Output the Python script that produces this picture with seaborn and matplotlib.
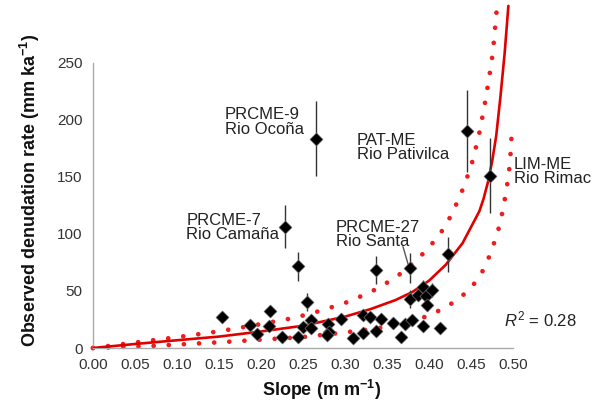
import numpy as np
import pandas as pd
import seaborn as sns
import matplotlib.pyplot as plt

# observed samples: slope, denudation rate, error
slope = [0.154, 0.187, 0.195, 0.211, 0.210, 0.225, 0.228, 0.244, 0.244, 0.255,
         0.250, 0.260, 0.260, 0.265, 0.280, 0.281, 0.279, 0.295, 0.310, 0.321,
         0.321, 0.330, 0.337, 0.337, 0.343, 0.357, 0.367, 0.371, 0.377, 0.377,
         0.380, 0.387, 0.393, 0.396, 0.398, 0.404, 0.393, 0.413, 0.423, 0.445,
         0.473]
rate = [27, 20, 12.5, 32.5, 19.5, 9.4, 106.5, 71.5, 9.4, 40.5,
        18.7, 24.6, 17.5, 183.5, 20.8, 14.3, 11.5, 25, 9, 29,
        12.9, 27, 68.5, 14.5, 25, 21.5, 9.4, 21, 70, 42.7,
        24.6, 46.5, 53.8, 45.6, 37.7, 50.9, 19.3, 17.3, 82, 190.5,
        151]
rate_err = [0, 3, 0, 4, 3, 0, 19, 13, 0, 8,
            3, 3, 0, 33, 3, 0, 0, 3, 0, 3,
            0, 3, 12, 0, 0, 0, 0, 0, 13, 8,
            0, 5, 6, 5, 5, 6, 0, 0, 15, 36,
            33]

# fitted curve
fit_s = [0.0, 0.05, 0.10, 0.15, 0.20, 0.25, 0.30, 0.33, 0.36, 0.38, 0.40,
         0.42, 0.44, 0.45, 0.46, 0.465, 0.47, 0.475, 0.48, 0.485, 0.49,
         0.4945]
fit_e = [0, 3.5, 6.8, 10, 14.5, 19.5, 27.5, 34, 42, 49, 59,
         73, 92, 106, 120, 131, 145, 163, 186, 220, 258,
         300]

# confidence bounds
up_s = [0.0, 0.05, 0.10, 0.15, 0.20, 0.24, 0.27, 0.30, 0.33, 0.36, 0.385,
        0.40, 0.42, 0.437, 0.45, 0.459, 0.466, 0.472, 0.476, 0.481]
up_e = [0, 4.8, 9.5, 14.6, 21, 26.5, 32.5, 39.5, 48.8, 61.5, 77,
        88, 107, 133, 159, 185, 212, 239, 259, 300]
lo_s = [0.0, 0.07, 0.15, 0.20, 0.25, 0.29, 0.32, 0.345, 0.37, 0.40, 0.423,
        0.44, 0.455, 0.466, 0.474, 0.482, 0.488, 0.492, 0.495, 0.4965,
        0.4978, 0.4988]
lo_e = [0, 1.8, 5, 7.3, 9.6, 12.9, 15.4, 18, 21.8, 28.3, 37,
        46, 57.3, 70, 84.5, 102, 121, 138, 153, 164,
        178, 196]

labels = ["PRCME-9\nRio Ocoña", "PRCME-7\nRio Camaña", "PAT-ME\nRio Pativilca",
          "LIM-ME\nRio Rimac", "PRCME-27\nRio Santa"]
label_x = [0.157, 0.111, 0.314, 0.501, 0.289]
label_y = [211, 118.4, 188.6, 167.5, 112.3]

sns.set_style("white")
plt.rcParams['font.family'] = ['Liberation Sans', 'DejaVu Sans']
plt.rcParams['mathtext.fontset'] = 'custom'
plt.rcParams['mathtext.rm'] = 'Liberation Sans'
plt.rcParams['mathtext.it'] = 'Liberation Sans:italic'
plt.rcParams['mathtext.bf'] = 'Liberation Sans:bold'

df = pd.DataFrame({'slope': slope, 'rate': rate, 'err': rate_err})

fig = plt.figure(figsize=(5.93, 4.05), dpi=100)
ax = fig.add_axes([93 / 593, 57 / 405, 0.7366, 0.856])

red = '#e00000'
for xs, ys in [(up_s, up_e), (lo_s, lo_e)]:
    ax.plot(xs, ys, color='#ee1c1c', lw=3.4, linestyle=(0, (0.01, 3.2)),
            dash_capstyle='round', clip_on=False, zorder=2)
sns.lineplot(x=fit_s, y=fit_e, ax=ax, color=red, lw=1.9, sort=False,
             estimator=None, zorder=3)

ax.errorbar(df['slope'], df['rate'], yerr=df['err'], fmt='none',
            ecolor='#333333', elinewidth=1.0, capsize=0, zorder=4)
sns.scatterplot(data=df, x='slope', y='rate', ax=ax, marker='D', s=45,
                color='black', edgecolor='#888888', linewidth=0.4, zorder=5)

for txt, tx, ty in zip(labels, label_x, label_y):
    ax.text(tx, ty, txt, ha='left', va='top', fontsize=12, color='#222222',
            linespacing=0.95, zorder=6)
ax.plot([0.369, 0.376], [88.9, 71.3], color='#555555', lw=1, zorder=4)
ax.text(0.489, 24.6, r"$R^2$ = 0.28", ha='left', va='center', fontsize=12,
        color='#222222')

ax.set_xlim(0, 0.52)
ax.set_ylim(0, 304)
ax.set_xticks(np.arange(0, 0.501, 0.05))
ax.set_xticklabels([f"{v:.2f}" for v in np.arange(0, 0.501, 0.05)])
ax.set_yticks(range(0, 251, 50))
ax.spines['left'].set_bounds(0, 250)
ax.spines['bottom'].set_bounds(0, 0.5)
for side in ['top', 'right']:
    ax.spines[side].set_visible(False)
for side in ['left', 'bottom']:
    ax.spines[side].set_color('#aaaaaa')
    ax.spines[side].set_linewidth(1)
ax.tick_params(axis='both', direction='out', length=4, width=1,
               color='#aaaaaa', labelsize=11, labelcolor='#333333')
ax.set_xlabel('')
ax.set_ylabel('')

fig.text(30 / 593, 1 - 190 / 405,
         r"Observed denudation rate (mm ka$^{\mathbf{-1}}$)",
         rotation=90, ha='center', va='center', fontsize=13,
         fontweight='bold', color='#111111')
fig.text(322 / 593, 1 - 390 / 405, r"Slope (m m$^{\mathbf{-1}}$)",
         ha='center', va='center', fontsize=13, fontweight='bold',
         color='#111111')

fig.savefig('out.png', dpi=100)
